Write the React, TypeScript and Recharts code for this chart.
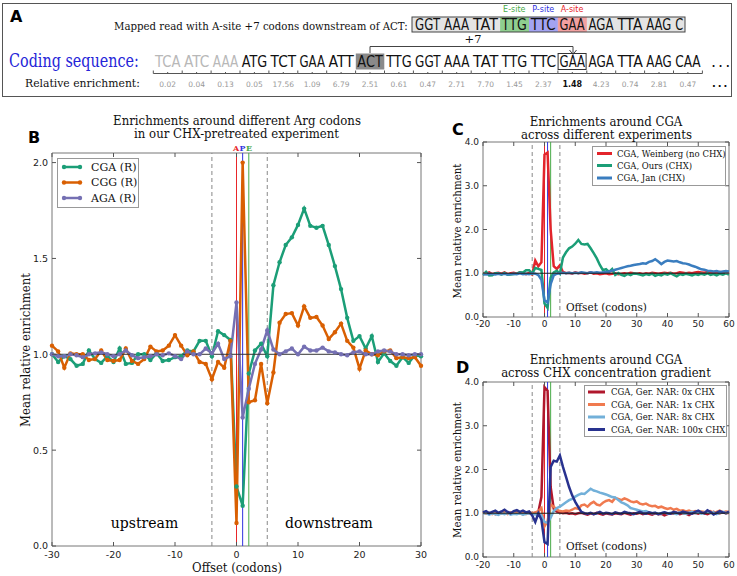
import React from "react";
import { LineChart, Line, XAxis, YAxis, ReferenceLine, ReferenceArea } from "recharts";

const SERIF = "'DejaVu Serif', serif";
const SANS = "'DejaVu Sans', sans-serif";

// ---------- panel A ----------
const CODING_CODONS = ["TCA", "ATC", "AAA", "ATG", "TCT", "GAA", "ATT", "ACT", "TTG", "GGT", "AAA", "TAT", "TTG", "TTC", "GAA", "AGA", "TTA", "AAG", "CAA"];
const ENRICHMENTS = ["0.02", "0.04", "0.13", "0.05", "17.56", "1.09", "6.79", "2.51", "0.61", "0.47", "2.71", "7.70", "1.45", "2.37", "1.48", "4.23", "0.74", "2.81", "0.47"];
const READ_CODONS = ["GGT", "AAA", "TAT", "TTG", "TTC", "GAA", "AGA", "TTA", "AAG", "C"];
const SITE_LABELS = ["E-site", "P-site", "A-site"];

// ---------- panel B (offset -30..30) ----------
const B_OFFSETS = Array.from({ length: 61 }, (_, i) => i - 30);
const B_CGA = [
  1.0, 0.96, 0.99, 0.975, 0.94, 0.95, 1.02, 0.975, 0.955, 0.99,
  0.96, 1.03, 0.95, 0.955, 1.0, 1.0, 0.97, 1.005, 0.965, 0.97,
  0.985, 0.99, 1.02, 1.015, 1.07, 1.07, 0.99, 1.12, 1.1, 1.075,
  0.31, 0.21, 0.9, 1.02, 1.055, 0.99, 1.36, 1.48, 1.57, 1.61,
  1.675, 1.76, 1.67, 1.66, 1.67, 1.57, 1.46, 1.34, 1.19, 1.07,
  1.095, 1.03, 1.095, 0.96, 1.005, 0.965, 0.94, 0.985, 0.955, 0.995,
  0.99,
];
const B_CGG = [
  1.045, 1.015, 0.93, 1.005, 1.0, 1.0, 0.97, 0.975, 1.02, 0.97,
  0.965, 0.97, 1.03, 0.965, 0.95, 0.975, 1.04, 1.015, 1.02, 1.045,
  1.1, 1.045, 0.995, 1.015, 0.96, 0.95, 0.87, 0.96, 0.93, 1.07,
  0.12, 2.0, 0.75, 0.76, 0.95, 0.745, 0.905, 1.165, 1.21, 1.215,
  1.15, 1.25, 1.19, 1.195, 1.15, 1.08, 1.115, 1.16, 1.07, 1.035,
  0.925, 1.02, 1.0, 0.995, 1.015, 1.02, 0.98, 0.985, 0.98, 0.985,
  0.94,
];
const B_AGA = [
  1.0, 0.99, 0.99, 1.0, 0.995, 0.985, 1.0, 1.005, 1.01, 1.0,
  0.99, 1.0, 1.02, 0.995, 0.98, 0.985, 0.99, 1.0, 0.995, 1.005,
  0.99, 0.975, 1.015, 1.0, 1.0, 1.03, 1.005, 1.055, 0.975, 0.99,
  1.27, 0.67, 0.82, 0.95, 1.025, 1.125, 1.025, 1.0, 1.015, 1.03,
  1.0, 1.04, 1.02, 1.02, 1.035, 1.015, 1.01, 1.0, 0.995, 1.01,
  1.015, 1.0, 1.0, 1.015, 1.02, 1.015, 1.0, 1.0, 0.995, 1.0,
  1.0,
];
const B_NAMES = ["CGA (R)", "CGG (R)", "AGA (R)"];
const B_COLORS = ["#1b9e77", "#d95f02", "#7570b3"];
const B_X_TICKS = [-30, -20, -10, 0, 10, 20, 30];
const B_Y_TICKS = [0, 0.5, 1.0, 1.5, 2.0];

// ---------- panels C and D (offset -20..60) ----------
const CD_OFFSETS = Array.from({ length: 81 }, (_, i) => i - 20);
const C_WEINBERG = [
  1.0, 0.99, 1.02, 0.98, 1.0, 1.01, 0.99, 1.02, 0.98, 1.0,
  1.01, 0.99, 1.02, 1.0, 0.98, 1.01, 0.97, 1.29, 1.16, 1.25,
  3.71, 3.76, 2.0, 1.16, 1.1, 1.18, 1.03, 1.0, 1.01, 0.99,
  1.02, 1.0, 1.01, 0.99, 1.0, 1.02, 0.99, 1.0, 0.98, 0.99,
  1.0, 0.98, 0.99, 1.0, 0.98, 0.99, 1.0, 0.99, 1.01, 1.0,
  0.99, 1.0, 0.98, 1.0, 0.99, 1.01, 1.0, 0.99, 1.0, 1.01,
  1.0, 1.01, 0.99, 1.0, 1.02, 1.01, 1.0, 1.01, 1.0, 1.02,
  1.03, 1.02, 1.01, 1.03, 1.02, 1.01, 1.02, 1.03, 1.02, 1.01,
  1.02,
];
const C_OURS = [
  0.96, 1.03, 0.95, 0.955, 1.0, 1.0, 0.97, 1.005, 0.965, 0.97,
  0.985, 0.99, 1.02, 1.015, 1.07, 1.07, 0.99, 1.12, 1.1, 1.075,
  0.31, 0.21, 0.9, 1.02, 1.055, 0.99, 1.36, 1.48, 1.57, 1.61,
  1.675, 1.76, 1.67, 1.66, 1.67, 1.57, 1.46, 1.34, 1.19, 1.07,
  1.095, 1.03, 1.095, 0.96, 1.005, 0.965, 0.94, 0.985, 0.955, 0.995,
  0.99, 0.97, 0.95, 0.98, 0.96, 0.99, 0.94, 0.97, 0.95, 0.99,
  0.97, 1.0, 0.96, 0.93, 0.98, 0.96, 0.99, 0.97, 0.95, 0.98,
  0.96, 0.99, 0.97, 1.0, 0.96, 0.98, 0.95, 0.99, 0.97, 1.0,
  0.97,
];
const C_JAN = [
  0.98, 0.97, 0.99, 0.98, 0.97, 0.99, 0.98, 0.99, 0.97, 0.98,
  0.99, 0.98, 1.0, 0.98, 0.99, 0.98, 1.0, 0.99, 0.96, 0.85,
  0.38, 0.33, 0.75, 0.95, 0.99, 1.0, 1.01, 1.0, 1.01, 1.0,
  1.01, 1.0, 1.02, 1.01, 1.0, 1.02, 1.01, 1.02, 1.01, 1.02,
  1.03, 1.04, 1.06, 1.08, 1.1, 1.12, 1.14, 1.16, 1.17, 1.19,
  1.2, 1.21, 1.23, 1.22, 1.26, 1.28, 1.32, 1.27, 1.21, 1.26,
  1.29, 1.28, 1.27, 1.28, 1.25, 1.23, 1.22, 1.2, 1.17, 1.15,
  1.12, 1.09, 1.08, 1.06, 1.05, 1.04, 1.05, 1.03, 1.04, 1.05,
  1.04,
];
const C_NAMES = ["CGA, Weinberg (no CHX)", "CGA, Ours (CHX)", "CGA, Jan (CHX)"];
const C_COLORS = ["#e3242b", "#1b9e77", "#3a7dbf"];

const D_0X = [
  1.0, 1.02, 0.99, 1.01, 0.98, 1.0, 1.02, 0.99, 1.0, 1.01,
  0.99, 1.01, 1.0, 0.98, 1.01, 1.0, 0.99, 1.01, 1.03, 1.37,
  3.88, 3.8, 1.6, 1.1, 1.04, 1.02, 1.0, 1.01, 0.99, 1.0,
  0.98, 1.0, 1.01, 0.99, 0.97, 1.0, 0.98, 1.01, 0.99, 0.97,
  1.0, 0.98, 0.97, 1.0, 0.99, 0.98, 1.01, 0.99, 0.97, 1.0,
  0.99, 1.01, 0.98, 1.0, 0.99, 0.97, 1.0, 0.98, 0.99, 0.95,
  0.98, 1.0, 0.99, 1.01, 0.98, 1.0, 0.99, 0.96, 1.0, 1.01,
  0.99, 1.02, 1.0, 0.98, 1.01, 1.03, 0.99, 1.0, 1.02, 1.0,
  1.01,
];
const D_1X = [
  1.03, 0.99, 1.01, 0.98, 1.02, 1.0, 0.99, 1.03, 0.98, 1.01,
  1.0, 1.02, 0.99, 1.01, 0.98, 1.03, 1.0, 1.02, 1.05, 1.12,
  0.7, 0.82, 1.2, 1.15, 1.08, 1.05, 1.04, 1.06, 1.05, 1.08,
  1.12, 1.1, 1.18, 1.2, 1.15, 1.22, 1.26, 1.2, 1.18, 1.24,
  1.28, 1.3, 1.26, 1.35, 1.33, 1.3, 1.34, 1.31, 1.27, 1.25,
  1.27, 1.22, 1.2, 1.22, 1.18, 1.16, 1.17, 1.13, 1.15, 1.12,
  1.1, 1.12, 1.08, 1.1, 1.06, 1.07, 1.04, 1.06, 1.03, 1.05,
  1.02, 1.04, 1.03, 1.02, 1.05, 1.0, 1.03, 1.06, 1.02, 1.04,
  1.03,
];
const D_8X = [
  0.99, 1.01, 0.97, 1.0, 0.98, 0.96, 1.0, 0.98, 1.01, 0.97,
  0.99, 0.98, 1.0, 0.97, 0.99, 1.0, 0.98, 0.97, 0.99, 0.95,
  0.8, 0.78, 0.9, 1.05, 1.12, 1.15, 1.2, 1.25, 1.3, 1.33,
  1.38, 1.42, 1.45, 1.44, 1.5, 1.56, 1.52, 1.5, 1.47, 1.45,
  1.43, 1.4, 1.37, 1.36, 1.3, 1.25, 1.22, 1.18, 1.12, 1.1,
  1.08, 1.06, 1.04, 1.05, 1.02, 1.0, 1.01, 0.99, 1.0, 1.02,
  0.99, 1.01, 1.0, 0.98, 1.02, 1.0, 0.99, 1.01, 1.03, 1.0,
  1.02, 0.99, 1.01, 1.04, 1.0, 1.02, 0.98, 1.01, 1.03, 1.0,
  1.02,
];
const D_100X = [
  1.02, 1.05, 1.0, 1.03, 1.06, 1.01, 1.04, 1.08, 1.03, 1.0,
  1.05, 1.07, 1.03, 1.06, 1.02, 1.04, 0.95, 0.8, 1.0, 0.85,
  0.34, 0.3, 2.06, 2.2, 2.18, 2.32, 2.06, 1.83, 1.6, 1.41,
  1.26, 1.14, 1.03, 1.0, 0.99, 1.01, 0.98, 1.0, 1.03, 0.99,
  1.01, 1.0, 0.98, 1.02, 1.0, 0.99, 1.03, 1.01, 1.0, 0.98,
  1.01, 1.03, 1.0, 0.99, 1.02, 1.0, 1.01, 0.98, 1.0, 1.02,
  1.0, 0.99, 1.03, 1.01, 1.0, 1.04, 1.02, 1.0, 0.99, 1.03,
  1.06, 1.02, 1.0, 1.07, 1.03, 0.97, 1.01, 1.05, 1.02, 1.0,
  1.04,
];
const D_NAMES = ["CGA, Ger. NAR: 0x CHX", "CGA, Ger. NAR: 1x CHX", "CGA, Ger. NAR: 8x CHX", "CGA, Ger. NAR: 100x CHX"];
const D_COLORS = ["#b0172c", "#f07a4f", "#72b0d9", "#28328f"];
const CD_X_TICKS = [-20, -10, 0, 10, 20, 30, 40, 50, 60];
const CD_Y_TICKS = [0, 1, 2, 3, 4];

const bData = B_OFFSETS.map((x, i) => ({ x, cga: B_CGA[i], cgg: B_CGG[i], aga: B_AGA[i] }));
const cData = CD_OFFSETS.map((x, i) => ({ x, weinberg: C_WEINBERG[i], ours: C_OURS[i], jan: C_JAN[i] }));
const dData = CD_OFFSETS.map((x, i) => ({ x, c0: D_0X[i], c1: D_1X[i], c8: D_8X[i], c100: D_100X[i] }));

type Plot = { left: number; right: number; top: number; bottom: number };
const B_PLOT: Plot = { left: 52, right: 421, top: 43, bottom: 436 };
const CD_PLOT: Plot = { left: 43, right: 289, top: 32, bottom: 207 };

const SITE_RED = "#e8262a";
const SITE_BLUE = "#3232e0";
const SITE_GREEN = "#48aa48";

// measure text with a canvas so long labels can be squeezed to the reference width
let measureCtx: CanvasRenderingContext2D | null = null;
function measure(text: string, size: number, family: string, weight = "normal") {
  if (!measureCtx) measureCtx = document.createElement("canvas").getContext("2d");
  if (!measureCtx) return text.length * size * 0.6;
  measureCtx.font = `${weight} ${size}px ${family}`;
  return measureCtx.measureText(text).width;
}

function FitText({ x, y, width, size, family = SERIF, weight = "normal", fill = "#111", anchor = "start", rotate = 0, children }: any) {
  const natural = measure(children, size, family, weight);
  const sx = Math.min(1.15, width / natural);
  return (
    <text transform={`translate(${x},${y}) rotate(${rotate}) scale(${sx},1)`} x={0} y={0} textAnchor={anchor}
      fontFamily={family} fontSize={size} fontWeight={weight} fill={fill}>
      {children}
    </text>
  );
}

function xTick(plot: Plot, dy: number, size: number) {
  return (props: any) => {
    const { x, payload } = props;
    return (
      <g>
        <line x1={x} x2={x} y1={plot.bottom} y2={plot.bottom - 4} stroke="#555" />
        <line x1={x} x2={x} y1={plot.top} y2={plot.top + 4} stroke="#555" />
        <text x={x} y={plot.bottom + dy} textAnchor="middle" fontSize={size} fontFamily={SANS} fill="#222">
          {payload.value}
        </text>
      </g>
    );
  };
}

function yTick(plot: Plot, size: number) {
  return (props: any) => {
    const { y, payload } = props;
    return (
      <g>
        <line x1={plot.left} x2={plot.left + 4} y1={y} y2={y} stroke="#555" />
        <line x1={plot.right} x2={plot.right - 4} y1={y} y2={y} stroke="#555" />
        <text x={plot.left - 4} y={y + size * 0.36} textAnchor="end" fontSize={size} fontFamily={SANS} fill="#222">
          {Number(payload.value).toFixed(1)}
        </text>
      </g>
    );
  };
}

function siteLines() {
  return [
    <ReferenceLine key="a" x={0} stroke={SITE_RED} strokeWidth={1} />,
    <ReferenceLine key="p" x={1} stroke={SITE_BLUE} strokeWidth={1} />,
    <ReferenceLine key="e" x={2} stroke={SITE_GREEN} strokeWidth={1} />,
    <ReferenceLine key="d1" x={-4} stroke="#888" strokeDasharray="4 3" />,
    <ReferenceLine key="d2" x={5} stroke="#888" strokeDasharray="4 3" />,
  ];
}

function PanelB() {
  return (
    <LineChart width={440} height={466} data={bData} margin={{ top: 43, right: 19, bottom: 0, left: 0 }}>
      <XAxis type="number" dataKey="x" domain={[-30, 30]} ticks={B_X_TICKS} interval={0} height={30}
        axisLine={false} tickLine={false} tick={xTick(B_PLOT, 12, 9.5)} />
      <YAxis type="number" domain={[0, 2.05]} ticks={B_Y_TICKS} interval={0} width={52}
        axisLine={false} tickLine={false} tick={yTick(B_PLOT, 9.5)} />
      {siteLines()}
      <Line dataKey="cga" stroke={B_COLORS[0]} strokeWidth={2.5} isAnimationActive={false}
        dot={{ r: 2.2, fill: B_COLORS[0], stroke: B_COLORS[0], strokeWidth: 0 }} />
      <Line dataKey="cgg" stroke={B_COLORS[1]} strokeWidth={2.5} isAnimationActive={false}
        dot={{ r: 2.2, fill: B_COLORS[1], stroke: B_COLORS[1], strokeWidth: 0 }} />
      <Line dataKey="aga" stroke={B_COLORS[2]} strokeWidth={2.5} isAnimationActive={false}
        dot={{ r: 2.2, fill: B_COLORS[2], stroke: B_COLORS[2], strokeWidth: 0 }} />
      <ReferenceLine y={1} stroke="#333" strokeWidth={1} />
      <ReferenceArea x1={-30} x2={30} y1={0} y2={2.05} fill="none" fillOpacity={0} stroke="#777" strokeWidth={1} />
    </LineChart>
  );
}

function PanelC() {
  return (
    <LineChart width={297} height={230} data={cData} margin={{ top: 32, right: 8, bottom: 0, left: 0 }}>
      <XAxis type="number" dataKey="x" domain={[-20, 60]} ticks={CD_X_TICKS} interval={0} height={23}
        axisLine={false} tickLine={false} tick={xTick(CD_PLOT, 10, 9)} />
      <YAxis type="number" domain={[0, 4]} ticks={CD_Y_TICKS} interval={0} width={43}
        axisLine={false} tickLine={false} tick={yTick(CD_PLOT, 9)} />
      {siteLines()}
      <Line dataKey="weinberg" stroke={C_COLORS[0]} strokeWidth={2.5} dot={false} isAnimationActive={false} />
      <Line dataKey="ours" stroke={C_COLORS[1]} strokeWidth={2.5} dot={false} isAnimationActive={false} />
      <Line dataKey="jan" stroke={C_COLORS[2]} strokeWidth={2.5} dot={false} isAnimationActive={false} />
      <ReferenceLine y={1} stroke="#222" strokeWidth={1} />
      <ReferenceArea x1={-20} x2={60} y1={0} y2={4} fill="none" fillOpacity={0} stroke="#777" strokeWidth={1} />
    </LineChart>
  );
}

function PanelD() {
  return (
    <LineChart width={297} height={226} data={dData} margin={{ top: 32, right: 8, bottom: 0, left: 0 }}>
      <XAxis type="number" dataKey="x" domain={[-20, 60]} ticks={CD_X_TICKS} interval={0} height={19}
        axisLine={false} tickLine={false} tick={xTick(CD_PLOT, 11, 9)} />
      <YAxis type="number" domain={[0, 4]} ticks={CD_Y_TICKS} interval={0} width={43}
        axisLine={false} tickLine={false} tick={yTick(CD_PLOT, 9)} />
      {siteLines()}
      <Line dataKey="c0" stroke={D_COLORS[0]} strokeWidth={2.5} dot={false} isAnimationActive={false} />
      <Line dataKey="c1" stroke={D_COLORS[1]} strokeWidth={2.5} dot={false} isAnimationActive={false} />
      <Line dataKey="c8" stroke={D_COLORS[2]} strokeWidth={2.5} dot={false} isAnimationActive={false} />
      <Line dataKey="c100" stroke={D_COLORS[3]} strokeWidth={2.5} dot={false} isAnimationActive={false} />
      <ReferenceLine y={1} stroke="#222" strokeWidth={1} />
      <ReferenceArea x1={-20} x2={60} y1={0} y2={4} fill="none" fillOpacity={0} stroke="#777" strokeWidth={1} />
    </LineChart>
  );
}

const codonX = (i: number) => 155 + i * 28.9;

function PanelA() {
  return (
    <g>
      <rect x={2.5} y={3.5} width={729} height={93} fill="#fff" stroke="#555" />
      <text x={10} y={22} fontFamily={SANS} fontWeight="bold" fontSize={16}>A</text>
      <FitText x={114} y={29.5} width={294} size={11.5}>Mapped read with A-site +7 codons downstream of ACT:</FitText>
      <rect x={412} y={17} width={273} height={15} fill="#e4e4e4" />
      {["#8fcf8f", "#a3a3f2", "#f2a0a0"].map((c, k) => (
        <rect key={c} x={codonX(12 + k) - 1.7} y={17} width={28.9} height={15} fill={c} />
      ))}
      <rect x={412} y={17} width={273} height={15} fill="none" stroke="#444" />
      {SITE_LABELS.map((s, k) => (
        <text key={s} x={codonX(12 + k) + 12.5} y={12} textAnchor="middle" fontFamily={SANS} fontSize={8}
          fill={[SITE_GREEN, SITE_BLUE, SITE_RED][k]}>{s}</text>
      ))}
      {READ_CODONS.map((c, k) => (
        <FitText key={k} x={codonX(9 + k)} y={30} width={c.length === 3 ? 25 : 8} size={15.5} family={SANS}>{c}</FitText>
      ))}
      <text x={473} y={42.5} textAnchor="middle" fontFamily={SERIF} fontSize={11.5} fill="#111">+7</text>
      <path d="M370,53 V46.5 H573 V54" fill="none" stroke="#444" />
      <path d="M569.5,50 L573,54.5 L576.5,50" fill="none" stroke="#444" />
      <FitText x={9} y={67} width={130} size={18} fill="#2525d8">Coding sequence:</FitText>
      <rect x={codonX(7) - 1.5} y={53.5} width={28.5} height={16} fill="#8a8a8a" />
      <rect x={codonX(14) - 1.5} y={53.5} width={28} height={16} fill="none" stroke="#333" />
      {CODING_CODONS.map((c, i) => (
        <FitText key={i} x={codonX(i)} y={67} width={25.5} size={16.5} family={SANS} fill={i < 3 ? "#b8b8b8" : "#111"}>{c}</FitText>
      ))}
      <text x={711} y={67} fontFamily={SANS} fontSize={16} fill="#111" letterSpacing={2}>...</text>
      {CODING_CODONS.map((_, i) => (
        <g key={i} stroke="#555" strokeWidth={1}>
          <line x1={codonX(i) - 1.7} x2={codonX(i) + 27.2} y1={73.5} y2={73.5} />
          <line x1={codonX(i) - 1.7} x2={codonX(i) - 1.7} y1={70.5} y2={73.5} />
          <line x1={codonX(i) + 12.7} x2={codonX(i) + 12.7} y1={72} y2={73.5} />
        </g>
      ))}
      <line x1={codonX(18) + 27.2} x2={codonX(18) + 27.2} y1={70.5} y2={73.5} stroke="#555" />
      <FitText x={25} y={86.5} width={115} size={11.5}>Relative enrichment:</FitText>
      {ENRICHMENTS.map((v, i) => (
        <text key={i} x={codonX(i) + 12.7} y={86.5} textAnchor="middle" fontFamily={SANS}
          fontSize={i === 14 ? 8 : 7.5} fontWeight={i === 14 ? "bold" : "normal"} fill={i === 14 ? "#111" : "#999"}>{v}</text>
      ))}
      <text x={712} y={86.5} fontFamily={SANS} fontSize={10} fontWeight="bold" fill="#111" letterSpacing={2}>...</text>
    </g>
  );
}

function LegendBox({ x, y, w, h, names, colors, rows, lineX, lineW, textX, size, dots }: any) {
  return (
    <g>
      <rect x={x} y={y} width={w} height={h} fill="#fff" stroke="#999" />
      {names.map((n: string, k: number) => (
        <g key={n}>
          <line x1={lineX} x2={lineX + lineW} y1={rows[k]} y2={rows[k]} stroke={colors[k]} strokeWidth={dots ? 2.5 : 3} />
          {dots && <circle cx={lineX} cy={rows[k]} r={2.2} fill={colors[k]} />}
          {dots && <circle cx={lineX + lineW} cy={rows[k]} r={2.2} fill={colors[k]} />}
          <text x={textX} y={rows[k] + size * 0.36} fontFamily={SERIF} fontSize={size} fill="#111">{n}</text>
        </g>
      ))}
    </g>
  );
}

function Overlay() {
  return (
    <svg width={737} height={576} style={{ position: "absolute", left: 0, top: 0, pointerEvents: "none" }}>
      <PanelA />

      {/* panel B texts */}
      <text x={28} y={143} fontFamily={SANS} fontWeight="bold" fontSize={16}>B</text>
      <FitText x={237} y={125} width={248} size={12} anchor="middle">Enrichments around different Arg codons</FitText>
      <FitText x={236.5} y={138} width={205} size={12} anchor="middle">in our CHX-pretreated experiment</FitText>
      <text x={236} y={150.5} textAnchor="middle" fontFamily={SERIF} fontWeight="bold" fontSize={8} fill={SITE_RED}>A</text>
      <text x={242.5} y={150.5} textAnchor="middle" fontFamily={SERIF} fontWeight="bold" fontSize={8} fill={SITE_BLUE}>P</text>
      <text x={249} y={150.5} textAnchor="middle" fontFamily={SERIF} fontWeight="bold" fontSize={8} fill={SITE_GREEN}>E</text>
      <FitText x={30} y={350} width={154} size={12} anchor="middle" rotate={-90}>Mean relative enrichment</FitText>
      <FitText x={237} y={572} width={90} size={12} anchor="middle">Offset (codons)</FitText>
      <text x={144.5} y={528} textAnchor="middle" fontFamily={SERIF} fontSize={14}>upstream</text>
      <text x={329} y={528} textAnchor="middle" fontFamily={SERIF} fontSize={14}>downstream</text>
      <LegendBox x={57.5} y={158.5} w={81} h={49} names={B_NAMES} colors={B_COLORS} rows={[167, 182.5, 198]}
        lineX={64} lineW={16} textX={91} size={11} dots />

      {/* panel C texts */}
      <text x={452} y={134.5} fontFamily={SANS} fontWeight="bold" fontSize={16}>C</text>
      <FitText x={606} y={126} width={153} size={13} anchor="middle">Enrichments around CGA</FitText>
      <FitText x={606.5} y={138.5} width={171} size={13} anchor="middle">across different experiments</FitText>
      <FitText x={461} y={231} width={135} size={11} anchor="middle" rotate={-90}>Mean relative enrichment</FitText>
      <FitText x={566} y={311} width={81} size={11}>Offset (codons)</FitText>
      <LegendBox x={592.5} y={146.5} w={133} h={39} names={C_NAMES} colors={C_COLORS} rows={[153.5, 165.5, 178]}
        lineX={597} lineW={15} textX={617} size={8.5} />

      {/* panel D texts */}
      <text x={456} y={373} fontFamily={SANS} fontWeight="bold" fontSize={16}>D</text>
      <FitText x={606} y={364} width={153} size={13} anchor="middle">Enrichments around CGA</FitText>
      <FitText x={606} y={377} width={210} size={13} anchor="middle">across CHX concentration gradient</FitText>
      <FitText x={461} y={470} width={136} size={11} anchor="middle" rotate={-90}>Mean relative enrichment</FitText>
      <FitText x={566} y={550} width={81} size={11}>Offset (codons)</FitText>
      <LegendBox x={584.5} y={385.5} w={142} h={51} names={D_NAMES} colors={D_COLORS} rows={[392, 404.5, 417, 429.5]}
        lineX={588} lineW={17} textX={611} size={8.5} />
    </svg>
  );
}

export default function App() {
  return (
    <div style={{ position: "absolute", left: 0, top: 0, width: 737, height: 576, background: "#fff", overflow: "hidden" }}>
      <div style={{ position: "absolute", left: 0, top: 110 }}>
        <PanelB />
      </div>
      <div style={{ position: "absolute", left: 440, top: 110 }}>
        <PanelC />
      </div>
      <div style={{ position: "absolute", left: 440, top: 350 }}>
        <PanelD />
      </div>
      <Overlay />
    </div>
  );
}
